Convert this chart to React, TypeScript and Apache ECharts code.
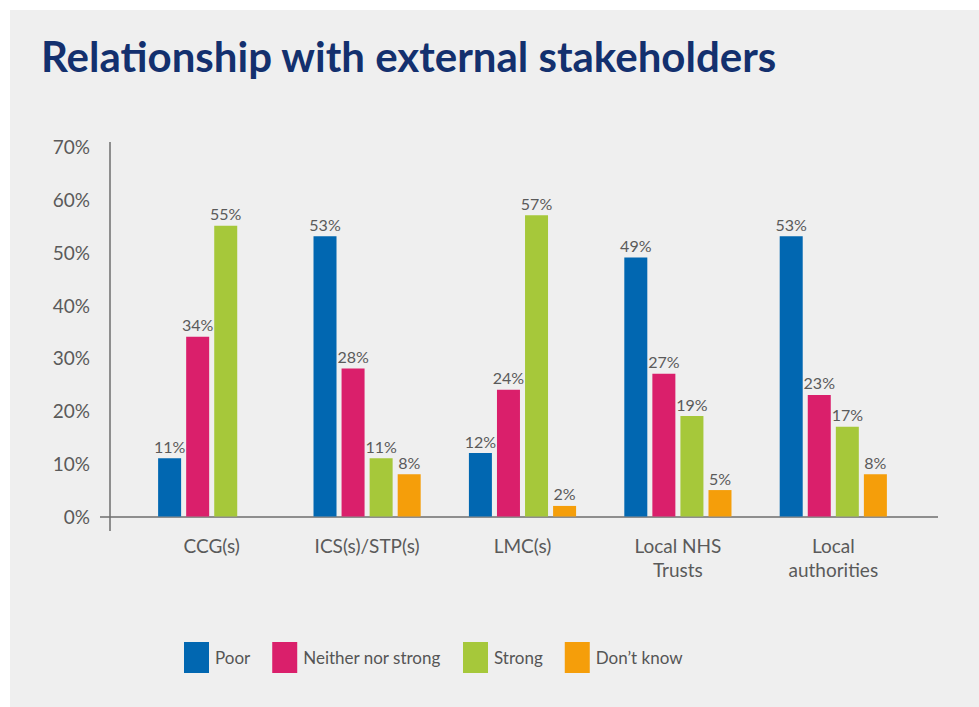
import React, { useEffect, useRef } from "react";
import * as echarts from "echarts";

const categories = ["CCG(s)", "ICS(s)/STP(s)", "LMC(s)", "Local NHS\nTrusts", "Local\nauthorities"];
const poor = [11, 53, 12, 49, 53];
const neither = [34, 28, 24, 27, 23];
const strong = [55, 11, 57, 19, 17];
const dontKnow: (number | null)[] = [null, 8, 2, 5, 8];
const seriesNames = ["Poor", "Neither nor strong", "Strong", "Don\u2019t know"];
const seriesColors = ["#0167b1", "#da1f6b", "#a6c83a", "#f59e0a"];
const yTicks = { min: 0, max: 70, interval: 10 };

const FONT = "Lato";
const GREY = "#5a5a5a";

export default function App() {
  const ref = useRef<HTMLDivElement>(null);
  useEffect(() => {
    if (!ref.current) return;
    const chart = echarts.init(ref.current, null, { renderer: "svg" });
    const values = [poor, neither, strong, dontKnow];
    chart.setOption({
      animation: false,
      backgroundColor: "transparent",
      title: {
        text: "Relationship with external stakeholders",
        left: 41,
        top: 35,
        padding: 0,
        textStyle: { fontFamily: FONT, fontSize: 42, fontWeight: "bold", color: "#13306e" },
      },
      legend: {
        left: 179,
        top: 637,
        itemWidth: 25,
        itemHeight: 31,
        itemGap: 22,
        icon: "rect",
        textStyle: { fontFamily: FONT, fontSize: 17, color: "#555555", padding: [0, 0, 0, 1] },
        data: seriesNames,
      },
      grid: { left: 134, right: 68, top: 146.5, bottom: 190.5, containLabel: false },
      xAxis: {
        type: "category",
        data: categories,
        axisLine: { show: false },
        axisTick: { show: false },
        axisLabel: {
          margin: 17,
          fontFamily: FONT,
          fontSize: 19,
          lineHeight: 24,
          color: GREY,
          interval: 0,
        },
      },
      yAxis: {
        type: "value",
        min: yTicks.min,
        max: yTicks.max,
        interval: yTicks.interval,
        splitLine: { show: false },
        axisLine: { show: false },
        axisTick: { show: false },
        axisLabel: {
          margin: 44,
          fontFamily: FONT,
          fontSize: 19,
          color: GREY,
          formatter: "{value}%",
        },
      },
      graphic: [
        { type: "line", shape: { x1: 110, y1: 142, x2: 110, y2: 531 }, style: { stroke: "#6e6e6e", lineWidth: 1.5 } },
        { type: "line", shape: { x1: 100, y1: 517, x2: 938, y2: 517 }, style: { stroke: "#6e6e6e", lineWidth: 1.5 } },
      ],
      series: seriesNames.map((name, i) => ({
        name,
        type: "bar",
        data: values[i],
        barWidth: 23,
        barGap: "22%",
        itemStyle: { color: seriesColors[i] },
        label: {
          show: true,
          position: "top",
          distance: 4,
          formatter: "{c}%",
          fontFamily: FONT,
          fontSize: 16,
          color: GREY,
        },
      })),
    });
    return () => chart.dispose();
  }, []);
  return (
    <div style={{ position: "fixed", left: 0, top: 0, width: 979, height: 707, background: "#ffffff" }}>
      <div style={{ position: "absolute", left: 10, top: 10, width: 969, height: 697, background: "#efefef" }} />
      <div ref={ref} style={{ position: "absolute", left: 0, top: 0, width: 979, height: 707 }} />
    </div>
  );
}
